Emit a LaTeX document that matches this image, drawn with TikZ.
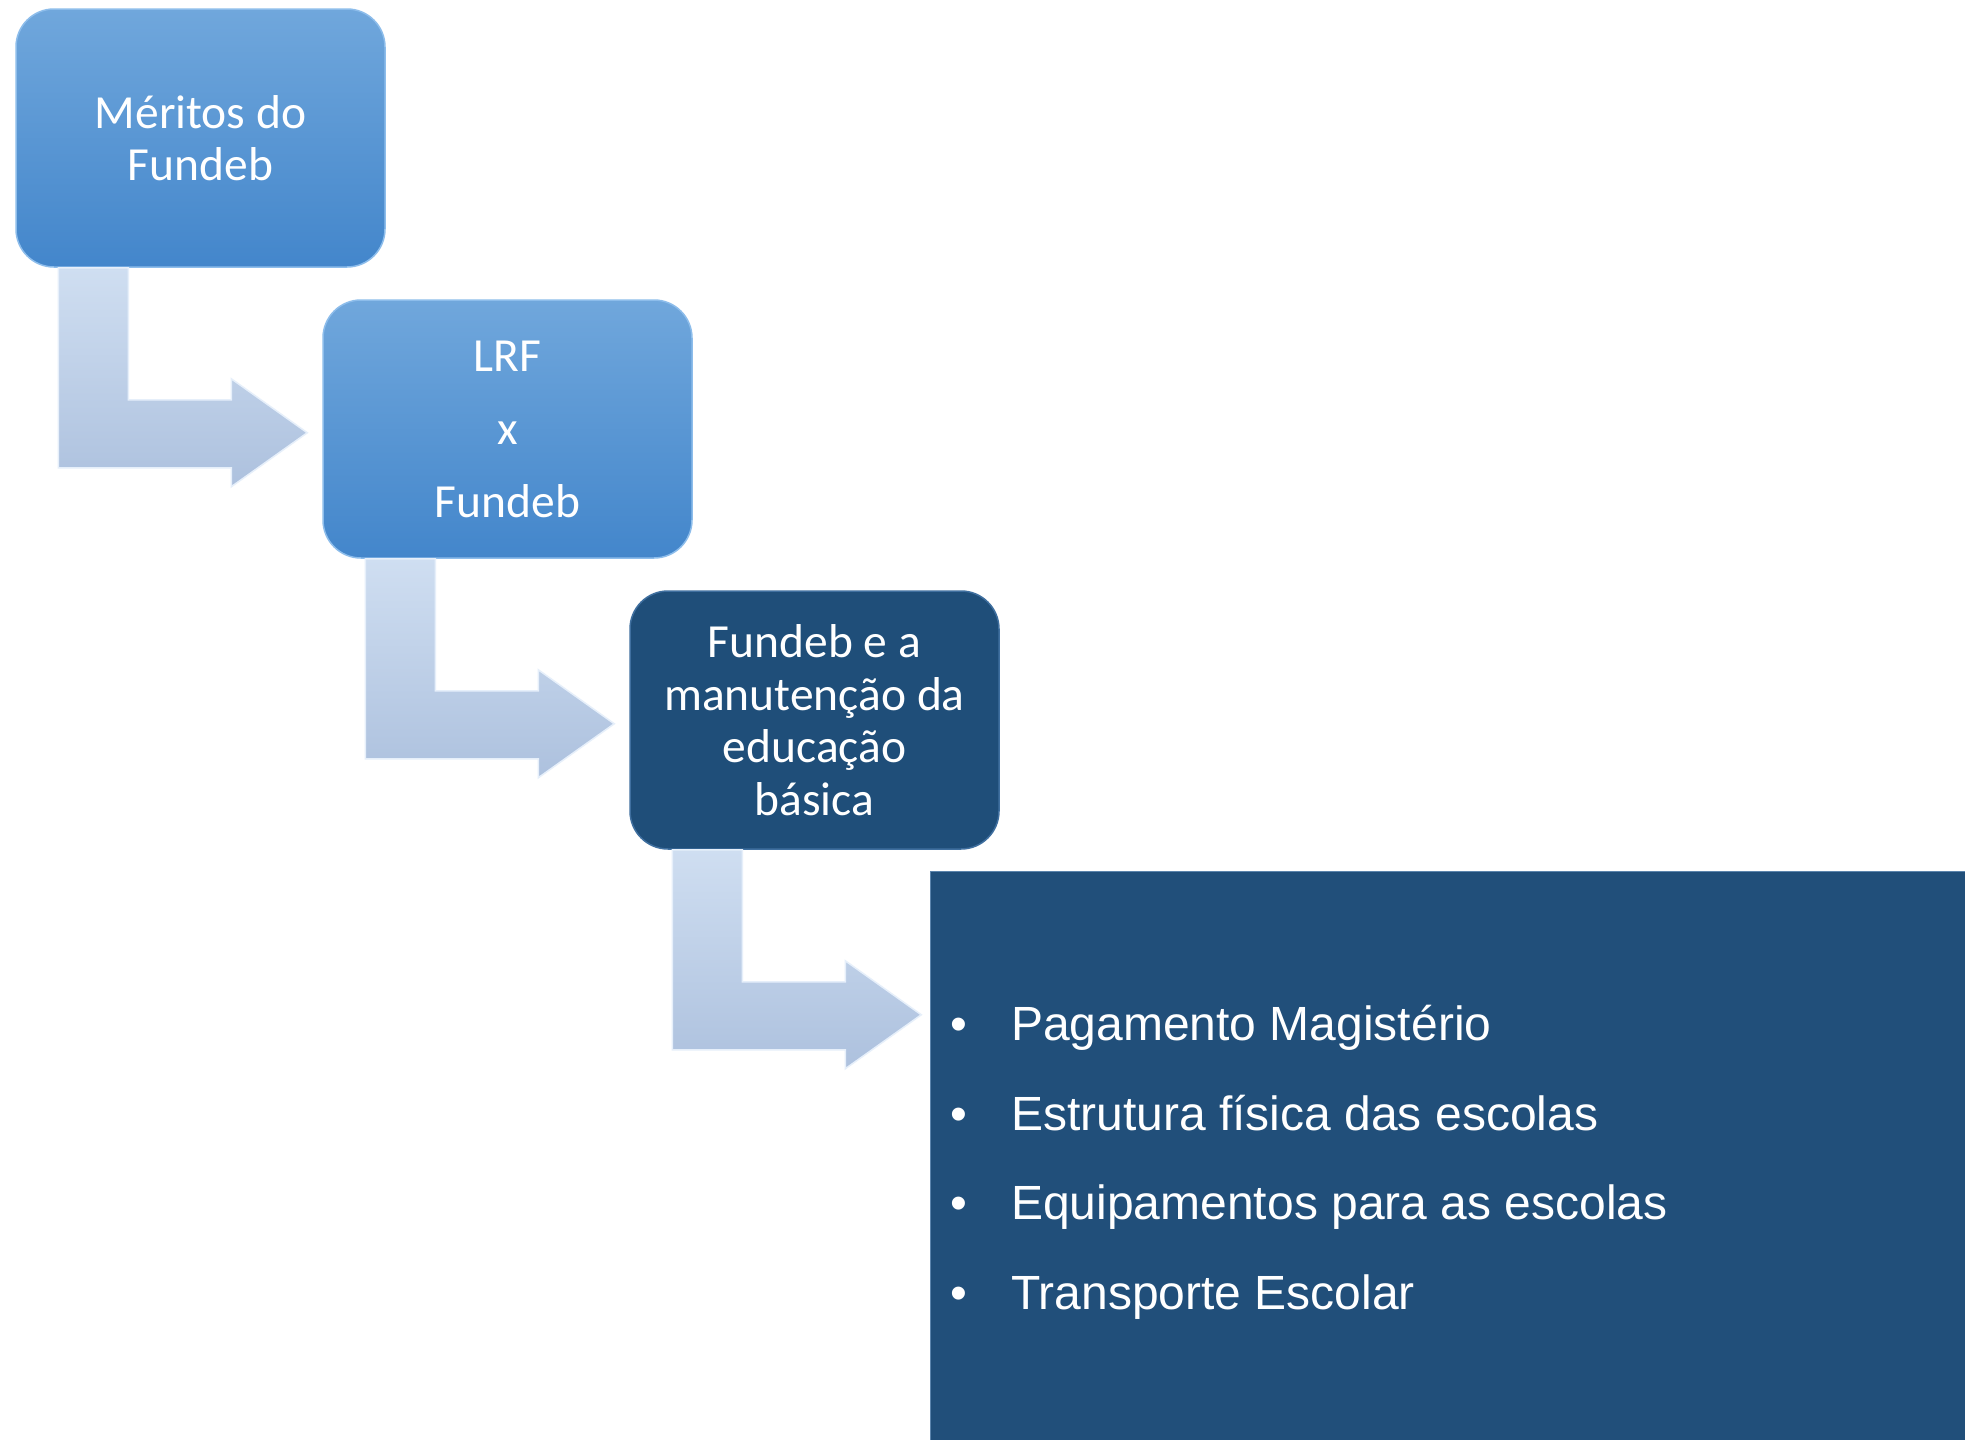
\documentclass[tikz,border=0pt]{standalone}
\usepackage{fontspec}
\setmainfont{Carlito}
\newfontfamily\arialfont{Liberation Sans}
\usetikzlibrary{calc}
\definecolor{boxtop}{HTML}{70A7DC}
\definecolor{boxbot}{HTML}{4386CB}
\definecolor{boxedge}{HTML}{8DBDEB}
\definecolor{navy}{HTML}{1F4E79}
\definecolor{navyedge}{HTML}{3F6F9F}
\definecolor{listbg}{HTML}{214F7A}
\definecolor{listedge}{HTML}{5B84AC}
\definecolor{arrtop}{HTML}{CFDEF1}
\definecolor{arrbot}{HTML}{ADC1DE}
\definecolor{arredge}{HTML}{E6EFFA}
\newcommand\bentarrow[2]{%
  \path[arrowshape] ($(#1.south west)+(43,0)$) coordinate (#1-#2-start)
    -- ++(70,0) -- ++(0,132) -- ++(103,0) -- ++(0,-21)
    -- ($(#1.south west)+(292,165)$) coordinate (#1-#2-tip)
    -- ($(#1.south west)+(216,219)$) -- ++(0,-19) -- ($(#1.south west)+(43,200)$) -- cycle;}
\begin{document}
\begin{tikzpicture}[x=1pt,y=-1pt,
  stepbox/.style={rounded corners=38pt, minimum width=369pt, minimum height=258pt,
    inner sep=0pt, text=white, align=center,
    font=\fontsize{47.5}{52.5}\selectfont},
  lightbox/.style={stepbox, top color=boxtop, bottom color=boxbot, draw=boxedge, line width=1.5pt},
  darkbox/.style={stepbox, fill=navy, draw=navyedge, line width=1.5pt},
  arrowshape/.style={top color=arrtop, bottom color=arrbot, draw=arredge, line width=1.5pt, line join=miter},
  listbox/.style={fill=listbg, draw=listedge, line width=1.2pt, minimum width=1035pt, minimum height=569pt, inner sep=0pt},
  bullettext/.style={anchor=base west, text=white, inner sep=0pt, font=\arialfont\fontsize{48}{58}\selectfont},
  bulletdot/.style={anchor=base, text=white, inner sep=0pt, font=\arialfont\fontsize{48}{58}\selectfont}
]
\useasboundingbox (0,0) rectangle (1965,1440);
\fill[white] (0,0) rectangle (1965,1440);
\node[lightbox] (b1) at (200.5,138) {Méritos do\\Fundeb};
\node[lightbox, font=\fontsize{47.5}{73}\selectfont] (b2) at (507.5,429) {LRF\\x\\Fundeb};
\node[darkbox] (b3) at (814.5,720) {Fundeb e a\\manutenção da\\educação\\básica};
\node[listbox] (list) at (1448,1156) {};
\bentarrow{b1}{b2}
\bentarrow{b2}{b3}
\bentarrow{b3}{list}
\node[bulletdot] (d1) at (959,1040) {•};
\node[bullettext] (t1) at (1011,1040) {Pagamento Magistério};
\node[bulletdot] (d2) at (959,1130) {•};
\node[bullettext] (t2) at (1011,1130) {Estrutura física das escolas};
\node[bulletdot] (d3) at (959,1219) {•};
\node[bullettext] (t3) at (1011,1219) {Equipamentos para as escolas};
\node[bulletdot] (d4) at (959,1309) {•};
\node[bullettext] (t4) at (1011,1309) {Transporte Escolar};
\end{tikzpicture}
\end{document}
